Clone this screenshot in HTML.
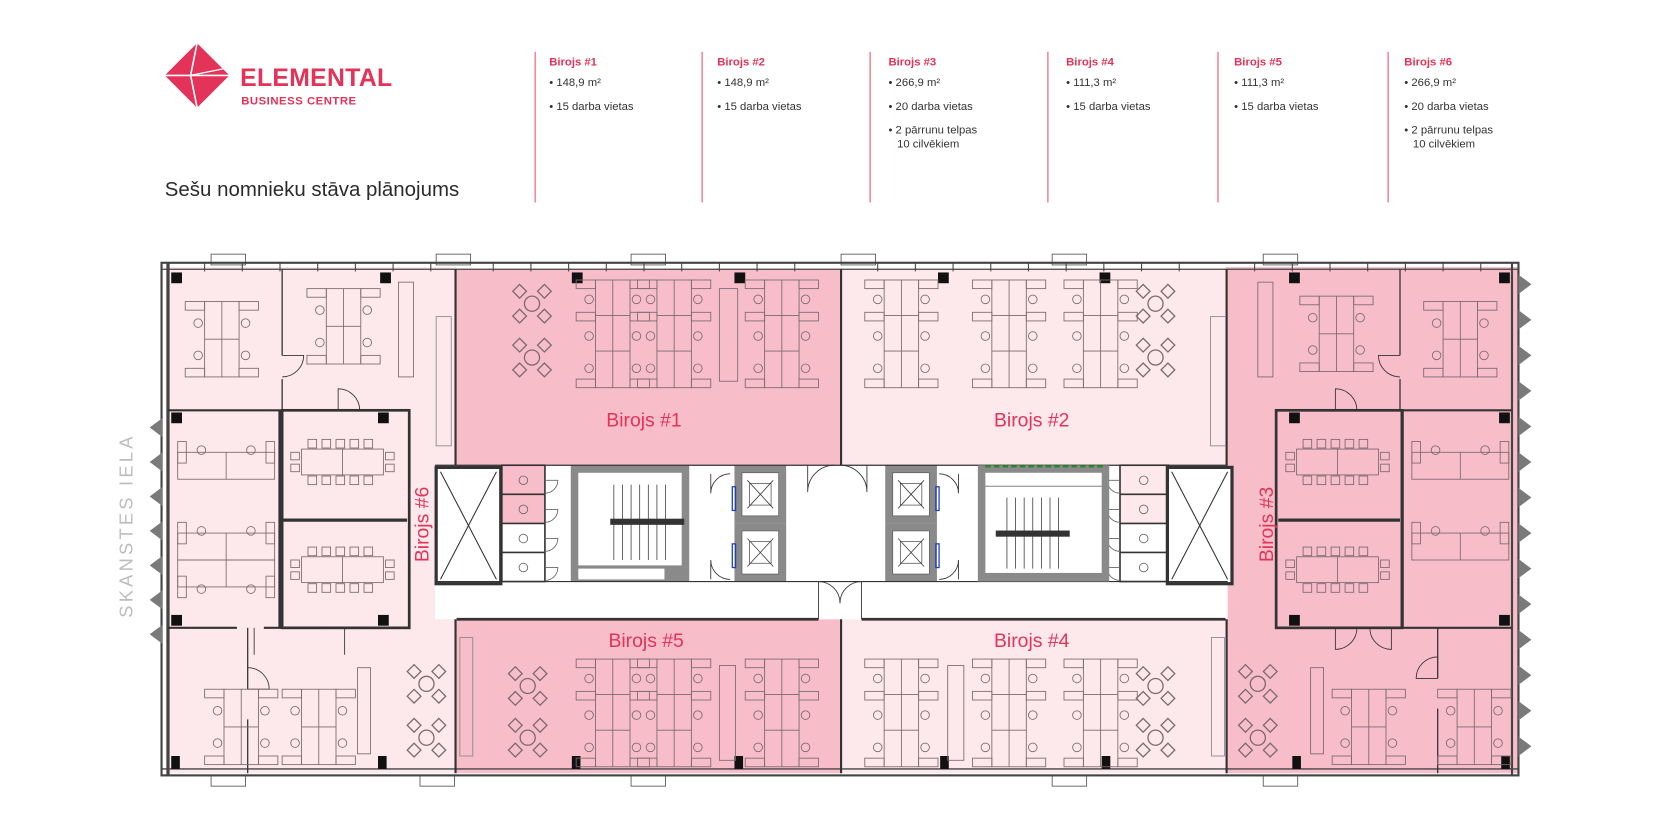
<!DOCTYPE html>
<html><head><meta charset="utf-8"><style>
html,body{margin:0;padding:0;background:#fff;width:1680px;height:840px;overflow:hidden}
svg{display:block}
text{font-family:"Liberation Sans",sans-serif}
</style></head><body>
<svg width="1680" height="840" viewBox="0 0 1560 780" xmlns="http://www.w3.org/2000/svg" xmlns:xlink="http://www.w3.org/1999/xlink">
<defs>
<g id="d3" fill="none" stroke="#7a6a6e" stroke-width="0.8">
 <rect x="18" y="0" width="32" height="100"/>
 <line x1="34" y1="0" x2="34" y2="100"/>
 <line x1="18" y1="33" x2="50" y2="33"/><line x1="18" y1="66" x2="50" y2="66"/>
 <rect x="0" y="0" width="18" height="8"/><rect x="50" y="0" width="18" height="8"/>
 <rect x="0" y="30" width="18" height="8"/><rect x="50" y="30" width="18" height="8"/>
 <rect x="0" y="92" width="18" height="8"/><rect x="50" y="92" width="18" height="8"/>
 <circle cx="12" cy="18" r="4"/><circle cx="56" cy="18" r="4"/>
 <circle cx="12" cy="52" r="4"/><circle cx="56" cy="52" r="4"/>
 <circle cx="12" cy="82" r="4"/><circle cx="56" cy="82" r="4"/>
</g>
<g id="d2" fill="none" stroke="#7a6a6e" stroke-width="0.8">
 <rect x="18" y="0" width="32" height="70"/>
 <line x1="34" y1="0" x2="34" y2="70"/><line x1="18" y1="35" x2="50" y2="35"/>
 <rect x="0" y="0" width="18" height="8"/><rect x="50" y="0" width="18" height="8"/>
 <rect x="0" y="62" width="18" height="8"/><rect x="50" y="62" width="18" height="8"/>
 <circle cx="12" cy="20" r="4"/><circle cx="56" cy="20" r="4"/>
 <circle cx="12" cy="50" r="4"/><circle cx="56" cy="50" r="4"/>
</g>
<g id="rt" fill="none" stroke="#7a6a6e" stroke-width="1.2">
 <circle cx="20" cy="20" r="7"/>
 <rect x="4" y="4" width="9" height="9" transform="rotate(45 8.5 8.5)"/>
 <rect x="27" y="4" width="9" height="9" transform="rotate(45 31.5 8.5)"/>
 <rect x="4" y="27" width="9" height="9" transform="rotate(45 8.5 31.5)"/>
 <rect x="27" y="27" width="9" height="9" transform="rotate(45 31.5 31.5)"/>
</g>
<g id="mt" fill="none" stroke="#7a6a6e" stroke-width="0.8">
 <rect x="12" y="12" width="76" height="24"/><line x1="50" y1="12" x2="50" y2="36"/>
 <rect x="18" y="3" width="8" height="8"/><rect x="31" y="3" width="8" height="8"/><rect x="44" y="3" width="8" height="8"/><rect x="57" y="3" width="8" height="8"/><rect x="70" y="3" width="8" height="8"/>
 <rect x="18" y="37" width="8" height="8"/><rect x="31" y="37" width="8" height="8"/><rect x="44" y="37" width="8" height="8"/><rect x="57" y="37" width="8" height="8"/><rect x="70" y="37" width="8" height="8"/>
 <rect x="2" y="15" width="8" height="7"/><rect x="2" y="26" width="8" height="7"/><rect x="90" y="15" width="8" height="7"/><rect x="90" y="26" width="8" height="7"/>
</g>
<g id="dw" fill="none" stroke="#7a6a6e" stroke-width="0.8">
 <rect x="0" y="10" width="90" height="25"/><line x1="45" y1="10" x2="45" y2="35"/>
 <rect x="0" y="0" width="8" height="20"/><rect x="82" y="0" width="8" height="20"/>
 <circle cx="22" cy="8" r="4"/><circle cx="68" cy="8" r="4"/>
</g>
<g id="sh" fill="#fff" stroke="#333" stroke-width="1">
 <rect x="0" y="0" width="60" height="108" stroke-width="3"/>
 <line x1="4" y1="4" x2="56" y2="104"/><line x1="56" y1="4" x2="4" y2="104"/>
</g>
<g id="lift" >
 <rect x="0" y="0" width="48" height="54" fill="#8a8a8a"/>
 <rect x="7" y="7" width="34" height="40" fill="#fff" stroke="#555" stroke-width="0.6"/>
 <line x1="12" y1="14" x2="36" y2="40" stroke="#333" stroke-width="0.7"/><line x1="36" y1="14" x2="12" y2="40" stroke="#333" stroke-width="0.7"/>
 <rect x="14" y="17" width="20" height="20" fill="none" stroke="#333" stroke-width="0.6"/>
</g>
<g id="tri"><polygon points="12,0 0,9 12,18" fill="#7a7a7a"/></g>
<g id="trir"><polygon points="0,0 12,9 0,18" fill="#7a7a7a"/></g>
</defs>

<!-- HEADER -->
<g transform="translate(183,70)">
 <polygon points="0,-30 30,0 0,30 -30,0" fill="#e33358"/>
 <line x1="0" y1="-30" x2="-6" y2="0" stroke="#fff" stroke-width="1.5"/>
 <line x1="-30" y1="0" x2="30" y2="0" stroke="#fff" stroke-width="1.5"/>
 <line x1="-6" y1="0" x2="0" y2="30" stroke="#fff" stroke-width="1.5"/>
 <line x1="-6" y1="0" x2="24" y2="-6" stroke="#fff" stroke-width="1.2"/>
</g>
<text x="223" y="80" font-size="23" fill="#e33358" font-weight="bold" letter-spacing="0.3">ELEMENTAL</text>
<text x="224" y="97" font-size="10.5" fill="#e33358" font-weight="bold" letter-spacing="0.5">BUSINESS CENTRE</text>
<text x="153" y="182" font-size="19" fill="#2b2b2b">Sešu nomnieku stāva plānojums</text>

<g stroke="#f08aa0" stroke-width="1.5">
 <line x1="497" y1="48" x2="497" y2="188"/><line x1="652" y1="48" x2="652" y2="188"/>
 <line x1="808" y1="48" x2="808" y2="188"/><line x1="973" y1="48" x2="973" y2="188"/>
 <line x1="1131" y1="48" x2="1131" y2="188"/><line x1="1289" y1="48" x2="1289" y2="188"/>
</g>
<g font-size="10.5" fill="#333">
 <g transform="translate(510,0)"><text y="61" fill="#e33358" font-weight="bold">Birojs #1</text><text y="80">• 148,9 m²</text><text y="102">• 15 darba vietas</text></g>
 <g transform="translate(666,0)"><text y="61" fill="#e33358" font-weight="bold">Birojs #2</text><text y="80">• 148,9 m²</text><text y="102">• 15 darba vietas</text></g>
 <g transform="translate(825,0)"><text y="61" fill="#e33358" font-weight="bold">Birojs #3</text><text y="80">• 266,9 m²</text><text y="102">• 20 darba vietas</text><text y="124">• 2 pārrunu telpas</text><text x="8" y="137">10 cilvēkiem</text></g>
 <g transform="translate(990,0)"><text y="61" fill="#e33358" font-weight="bold">Birojs #4</text><text y="80">• 111,3 m²</text><text y="102">• 15 darba vietas</text></g>
 <g transform="translate(1146,0)"><text y="61" fill="#e33358" font-weight="bold">Birojs #5</text><text y="80">• 111,3 m²</text><text y="102">• 15 darba vietas</text></g>
 <g transform="translate(1304,0)"><text y="61" fill="#e33358" font-weight="bold">Birojs #6</text><text y="80">• 266,9 m²</text><text y="102">• 20 darba vietas</text><text y="124">• 2 pārrunu telpas</text><text x="8" y="137">10 cilvēkiem</text></g>
</g>

<!-- PLAN FILLS -->
<rect x="154" y="248" width="270" height="470" fill="#fde8ec"/>
<rect x="424" y="250" width="356" height="182" fill="#f7bdc9"/>
<rect x="782" y="250" width="356" height="182" fill="#fde8ec"/>
<rect x="424" y="575" width="356" height="143" fill="#f7bdc9"/>
<rect x="782" y="575" width="356" height="143" fill="#fde8ec"/>
<rect x="1138" y="248" width="272" height="470" fill="#f7bdc9"/>
<rect x="404" y="432" width="736" height="143" fill="#fff"/>
<rect x="466" y="432" width="40" height="54" fill="#f7bdc9"/>
<rect x="1040" y="432" width="45" height="54" fill="#fde8ec"/>

<!-- top window markers -->
<g fill="#fff" stroke="#555" stroke-width="0.8">
 <rect x="196" y="236" width="32" height="10"/><rect x="405" y="236" width="32" height="10"/><rect x="586" y="236" width="32" height="10"/><rect x="781" y="236" width="32" height="10"/><rect x="977" y="236" width="32" height="10"/><rect x="1173" y="236" width="32" height="10"/>
 <rect x="196" y="720" width="32" height="10"/><rect x="390" y="720" width="32" height="10"/><rect x="586" y="720" width="32" height="10"/><rect x="977" y="720" width="32" height="10"/><rect x="1173" y="720" width="32" height="10"/>
</g>
<!-- outer walls -->
<g fill="none" stroke="#444">
 <rect x="150" y="244" width="1260" height="476" stroke-width="2"/>
 <line x1="150" y1="250" x2="1410" y2="250" stroke-width="1.2"/>
 <line x1="150" y1="714" x2="1410" y2="714" stroke-width="1.2"/>
 <line x1="156" y1="244" x2="156" y2="720" stroke-width="3"/>
 <line x1="1404" y1="244" x2="1404" y2="720" stroke-width="2"/>
</g>
<g stroke="#444" stroke-width="1">
 <line x1="190" y1="244" x2="190" y2="252"/><line x1="225" y1="244" x2="225" y2="252"/><line x1="260" y1="244" x2="260" y2="252"/><line x1="295" y1="244" x2="295" y2="252"/><line x1="330" y1="244" x2="330" y2="252"/><line x1="365" y1="244" x2="365" y2="252"/><line x1="400" y1="244" x2="400" y2="252"/><line x1="458" y1="244" x2="458" y2="252"/><line x1="493" y1="244" x2="493" y2="252"/><line x1="528" y1="244" x2="528" y2="252"/><line x1="563" y1="244" x2="563" y2="252"/><line x1="598" y1="244" x2="598" y2="252"/><line x1="633" y1="244" x2="633" y2="252"/><line x1="668" y1="244" x2="668" y2="252"/><line x1="703" y1="244" x2="703" y2="252"/><line x1="738" y1="244" x2="738" y2="252"/><line x1="815" y1="244" x2="815" y2="252"/><line x1="850" y1="244" x2="850" y2="252"/><line x1="885" y1="244" x2="885" y2="252"/><line x1="920" y1="244" x2="920" y2="252"/><line x1="955" y1="244" x2="955" y2="252"/><line x1="990" y1="244" x2="990" y2="252"/><line x1="1025" y1="244" x2="1025" y2="252"/><line x1="1060" y1="244" x2="1060" y2="252"/><line x1="1095" y1="244" x2="1095" y2="252"/><line x1="1165" y1="244" x2="1165" y2="252"/><line x1="1200" y1="244" x2="1200" y2="252"/><line x1="1235" y1="244" x2="1235" y2="252"/><line x1="1270" y1="244" x2="1270" y2="252"/><line x1="1305" y1="244" x2="1305" y2="252"/><line x1="1340" y1="244" x2="1340" y2="252"/><line x1="1375" y1="244" x2="1375" y2="252"/>
</g>
<!-- facade triangles -->
<g>
 <use xlink:href="#tri" x="139" y="388"/><use xlink:href="#tri" x="139" y="420"/><use xlink:href="#tri" x="139" y="452"/><use xlink:href="#tri" x="139" y="484"/><use xlink:href="#tri" x="139" y="516"/><use xlink:href="#tri" x="139" y="548"/><use xlink:href="#tri" x="139" y="580"/>
 <use xlink:href="#trir" x="1410" y="255"/><use xlink:href="#trir" x="1410" y="288"/><use xlink:href="#trir" x="1410" y="321"/><use xlink:href="#trir" x="1410" y="354"/><use xlink:href="#trir" x="1410" y="387"/><use xlink:href="#trir" x="1410" y="420"/><use xlink:href="#trir" x="1410" y="453"/><use xlink:href="#trir" x="1410" y="486"/><use xlink:href="#trir" x="1410" y="519"/><use xlink:href="#trir" x="1410" y="552"/><use xlink:href="#trir" x="1410" y="585"/><use xlink:href="#trir" x="1410" y="618"/><use xlink:href="#trir" x="1410" y="651"/><use xlink:href="#trir" x="1410" y="684"/>
</g>

<!-- interior walls -->
<g stroke="#333" fill="none">
 <line x1="262" y1="250" x2="262" y2="330" stroke-width="1.2"/><line x1="262" y1="352" x2="262" y2="381" stroke-width="1.2"/>
 <line x1="156" y1="381" x2="300" y2="381" stroke-width="2"/><line x1="330" y1="381" x2="380" y2="381" stroke-width="2"/>
 <line x1="260" y1="381" x2="260" y2="583" stroke-width="3"/>
 <line x1="262" y1="483" x2="378" y2="483" stroke-width="3"/>
 <rect x="262" y="381" width="118" height="202" stroke-width="2.5"/>
 <line x1="156" y1="583" x2="220" y2="583" stroke-width="2"/><line x1="245" y1="583" x2="300" y2="583" stroke-width="2"/><line x1="330" y1="583" x2="380" y2="583" stroke-width="2"/>
 <line x1="230" y1="583" x2="230" y2="640" stroke-width="1.2"/><line x1="230" y1="668" x2="230" y2="718" stroke-width="1.2"/>
 <line x1="423" y1="250" x2="423" y2="432" stroke-width="2"/><line x1="423" y1="575" x2="423" y2="718" stroke-width="2"/>
 <line x1="781" y1="250" x2="781" y2="432" stroke-width="2"/><line x1="781" y1="575" x2="781" y2="718" stroke-width="2"/>
 <line x1="1139" y1="250" x2="1139" y2="432" stroke-width="2"/><line x1="1139" y1="575" x2="1139" y2="718" stroke-width="2"/>
 <line x1="424" y1="575" x2="760" y2="575" stroke-width="2.5"/><line x1="800" y1="575" x2="1138" y2="575" stroke-width="2.5"/>
 <!-- right wing -->
 <line x1="1300" y1="250" x2="1300" y2="330" stroke-width="1.2"/><line x1="1300" y1="352" x2="1300" y2="381" stroke-width="1.2"/>
 <line x1="1185" y1="381" x2="1232" y2="381" stroke-width="2"/><line x1="1255" y1="381" x2="1404" y2="381" stroke-width="2"/>
 <rect x="1185" y="381" width="117" height="202" stroke-width="2.5"/>
 <line x1="1302" y1="381" x2="1302" y2="583" stroke-width="3"/>
 <line x1="1187" y1="483" x2="1300" y2="483" stroke-width="3"/>
 <line x1="1302" y1="583" x2="1404" y2="583" stroke-width="2"/>
 <line x1="1335" y1="583" x2="1335" y2="630" stroke-width="1.2"/><line x1="1335" y1="658" x2="1335" y2="718" stroke-width="1.2"/>
</g>
<!-- doors -->
<g fill="none" stroke="#333" stroke-width="0.8">
 <path d="M262 330 h20 a20 20 0 0 1 -20 20"/>
 <path d="M314 381 v-20 a20 20 0 0 1 20 20"/>
 <path d="M1300 330 h-20 a20 20 0 0 0 20 20"/>
 <path d="M1240 381 v-20 a20 20 0 0 1 20 20"/>
 <path d="M1240 583 v20 a20 20 0 0 0 20 -20"/>
 <path d="M1292 583 v20 a20 20 0 0 1 -20 -20"/>
 <path d="M1335 630 h-20 a20 20 0 0 1 20 -20"/>
 <path d="M230 640 h20 a20 20 0 0 0 -20 -20"/>
 <path d="M236 583 v25"/><path d="M320 583 v25"/>
 <path d="M760 575 v-35 a20 20 0 0 1 20 20"/><path d="M800 575 v-35 a20 20 0 0 0 -20 20"/>
</g>
<!-- pillars -->
<g fill="#111">
 <rect x="159" y="253" width="10" height="10"/><rect x="353" y="253" width="10" height="10"/><rect x="531" y="253" width="10" height="10"/><rect x="682" y="253" width="10" height="10"/><rect x="871" y="253" width="10" height="10"/><rect x="1021" y="253" width="10" height="10"/><rect x="1197" y="253" width="10" height="10"/><rect x="1392" y="253" width="10" height="10"/>
 <rect x="159" y="383" width="10" height="10"/><rect x="351" y="383" width="10" height="10"/><rect x="1197" y="383" width="10" height="10"/><rect x="1392" y="383" width="10" height="10"/>
 <rect x="159" y="571" width="10" height="10"/><rect x="351" y="571" width="10" height="10"/><rect x="1197" y="571" width="10" height="10"/><rect x="1392" y="571" width="10" height="10"/>
 <rect x="159" y="702" width="8" height="12"/><rect x="351" y="702" width="8" height="12"/><rect x="531" y="702" width="8" height="12"/><rect x="682" y="702" width="8" height="12"/><rect x="873" y="702" width="8" height="12"/><rect x="1023" y="702" width="8" height="12"/><rect x="1200" y="702" width="8" height="12"/><rect x="1394" y="702" width="8" height="12"/>
</g>

<!-- CORE -->
<use xlink:href="#sh" x="405" y="434"/>
<g fill="none" stroke="#333" stroke-width="1.5">
 <rect x="466" y="432" width="40" height="108"/>
 <line x1="466" y1="459" x2="506" y2="459"/><line x1="466" y1="486" x2="506" y2="486"/><line x1="466" y1="513" x2="506" y2="513"/>
 <rect x="1040" y="432" width="45" height="108"/>
 <line x1="1040" y1="459" x2="1085" y2="459"/><line x1="1040" y1="486" x2="1085" y2="486"/><line x1="1040" y1="513" x2="1085" y2="513"/>
</g>
<g fill="none" stroke="#666" stroke-width="0.8">
 <circle cx="486" cy="446" r="4"/><circle cx="486" cy="473" r="4"/><circle cx="486" cy="500" r="4"/><circle cx="486" cy="527" r="4"/>
 <circle cx="1062" cy="446" r="4"/><circle cx="1062" cy="473" r="4"/><circle cx="1062" cy="500" r="4"/><circle cx="1062" cy="527" r="4"/>
 <path d="M506 446 h12 a12 12 0 0 1 -12 12"/><path d="M506 473 h12 a12 12 0 0 1 -12 12"/><path d="M506 500 h12 a12 12 0 0 1 -12 12"/><path d="M506 527 h12 a12 12 0 0 1 -12 12"/>
 <path d="M1040 446 h-12 a12 12 0 0 0 12 12"/><path d="M1040 473 h-12 a12 12 0 0 0 12 12"/><path d="M1040 500 h-12 a12 12 0 0 0 12 12"/><path d="M1040 527 h-12 a12 12 0 0 0 12 12"/>
</g>
<use xlink:href="#sh" x="1084" y="434"/>
<!-- left stair -->
<rect x="530" y="432" width="110" height="108" fill="#8a8a8a"/>
<rect x="537" y="439" width="96" height="86" fill="#fff"/>
<rect x="537" y="528" width="80" height="10" fill="#fff"/>
<g stroke="#333" stroke-width="0.7">
 <line x1="570" y1="450" x2="570" y2="520"/><line x1="578" y1="450" x2="578" y2="520"/><line x1="586" y1="450" x2="586" y2="520"/><line x1="594" y1="450" x2="594" y2="520"/><line x1="602" y1="450" x2="602" y2="520"/><line x1="610" y1="450" x2="610" y2="520"/><line x1="618" y1="450" x2="618" y2="520"/>
 <rect x="567" y="482" width="68" height="5" fill="#333"/>
</g>
<!-- lifts -->
<use xlink:href="#lift" x="682" y="432"/><use xlink:href="#lift" x="682" y="486"/>
<use xlink:href="#lift" x="822" y="432"/><use xlink:href="#lift" x="822" y="486"/>
<g stroke="#2040c0" stroke-width="1.2" fill="none"><rect x="680" y="452" width="3" height="22"/><rect x="680" y="505" width="3" height="22"/><rect x="869" y="452" width="3" height="22"/><rect x="869" y="505" width="3" height="22"/></g>
<g fill="none" stroke="#333" stroke-width="0.8">
 <path d="M660 440 v18 a18 18 0 0 1 18 -18"/><path d="M660 538 v-18 a18 18 0 0 0 18 18"/>
 <path d="M890 440 v18 a18 18 0 0 0 -18 -18"/><path d="M890 538 v-18 a18 18 0 0 1 -18 18"/>
 <path d="M750 432 v25 a25 25 0 0 1 25 -25"/><path d="M805 432 v25 a25 25 0 0 0 -25 -25"/>
</g>
<line x1="404" y1="432" x2="1140" y2="432" stroke="#333" stroke-width="1.2"/>
<line x1="404" y1="540" x2="1140" y2="540" stroke="#333" stroke-width="1"/>
<!-- right stair -->
<rect x="908" y="432" width="122" height="108" fill="#8a8a8a"/>
<rect x="915" y="452" width="108" height="80" fill="#fff"/>
<rect x="915" y="439" width="108" height="12" fill="#fff"/>
<line x1="915" y1="433" x2="1026" y2="433" stroke="#1a8a1a" stroke-width="2" stroke-dasharray="5,3"/>
<g stroke="#333" stroke-width="0.7">
 <line x1="935" y1="462" x2="935" y2="528"/><line x1="943" y1="462" x2="943" y2="528"/><line x1="951" y1="462" x2="951" y2="528"/><line x1="959" y1="462" x2="959" y2="528"/><line x1="967" y1="462" x2="967" y2="528"/><line x1="975" y1="462" x2="975" y2="528"/><line x1="983" y1="462" x2="983" y2="528"/>
 <rect x="925" y="493" width="68" height="5" fill="#333"/>
</g>
<!-- side panels -->
<g fill="none" stroke="#888" stroke-width="0.8">
 <rect x="405" y="294" width="14" height="120"/><rect x="1124" y="294" width="14" height="120"/>
 <rect x="427" y="592" width="12" height="110"/><rect x="1125" y="592" width="12" height="110"/>
</g>

<!-- FURNITURE -->
<use xlink:href="#d2" x="172" y="280"/>
<use xlink:href="#d2" x="285" y="268"/>
<use xlink:href="#mt" x="268" y="405"/><use xlink:href="#mt" x="268" y="505"/>
<use xlink:href="#dw" x="165" y="410"/><use xlink:href="#dw" x="165" y="485"/><use xlink:href="#dw" x="165" y="515" transform="translate(0,1070) scale(1,-1) translate(0,0)"/>
<use xlink:href="#d2" x="190" y="640"/><use xlink:href="#d2" x="262" y="640"/>
<g fill="none" stroke="#7a6a6e" stroke-width="0.8"><rect x="370" y="262" width="14" height="88"/><rect x="332" y="620" width="12" height="80"/></g>
<use xlink:href="#rt" x="376" y="615"/><use xlink:href="#rt" x="376" y="665"/>

<use xlink:href="#rt" x="474" y="262"/><use xlink:href="#rt" x="474" y="312"/>
<use xlink:href="#d3" x="535" y="260"/><use xlink:href="#d3" x="592" y="260"/><use xlink:href="#d3" x="692" y="260"/>
<rect x="668" y="268" width="17" height="86" fill="none" stroke="#7a6a6e" stroke-width="0.8"/>

<use xlink:href="#d3" x="803" y="260"/><use xlink:href="#d3" x="903" y="260"/><use xlink:href="#d3" x="988" y="260"/>
<use xlink:href="#rt" x="1053" y="262"/><use xlink:href="#rt" x="1053" y="312"/>

<use xlink:href="#rt" x="470" y="617"/><use xlink:href="#rt" x="470" y="665"/>
<use xlink:href="#d3" x="535" y="612"/><use xlink:href="#d3" x="592" y="612"/><use xlink:href="#d3" x="692" y="612"/>
<rect x="668" y="618" width="15" height="88" fill="none" stroke="#7a6a6e" stroke-width="0.8"/>

<use xlink:href="#d3" x="803" y="612"/><use xlink:href="#d3" x="903" y="612"/><use xlink:href="#d3" x="988" y="612"/>
<rect x="880" y="618" width="15" height="88" fill="none" stroke="#7a6a6e" stroke-width="0.8"/>
<use xlink:href="#rt" x="1053" y="617"/><use xlink:href="#rt" x="1053" y="665"/>

<use xlink:href="#d2" x="1207" y="275"/><use xlink:href="#d2" x="1322" y="280"/>
<use xlink:href="#mt" x="1192" y="405"/><use xlink:href="#mt" x="1192" y="505"/>
<use xlink:href="#dw" x="1311" y="410"/><use xlink:href="#dw" x="1311" y="485"/>
<use xlink:href="#d2" x="1237" y="640"/><use xlink:href="#d2" x="1335" y="640"/>
<g fill="none" stroke="#7a6a6e" stroke-width="0.8"><rect x="1168" y="262" width="14" height="88"/><rect x="1217" y="620" width="12" height="80"/></g>
<use xlink:href="#rt" x="1148" y="615"/><use xlink:href="#rt" x="1148" y="665"/>

<!-- LABELS -->
<g fill="#e33358" font-size="18">
 <text x="598" y="396" text-anchor="middle">Birojs #1</text>
 <text x="958" y="396" text-anchor="middle">Birojs #2</text>
 <text x="600" y="601" text-anchor="middle">Birojs #5</text>
 <text x="958" y="601" text-anchor="middle">Birojs #4</text>
 <text transform="translate(398,487) rotate(-90)" text-anchor="middle">Birojs #6</text>
 <text transform="translate(1182,487) rotate(-90)" text-anchor="middle">Birojs #3</text>
</g>
<text transform="translate(123,488) rotate(-90)" text-anchor="middle" font-size="17" fill="#bdbdbd" letter-spacing="3">SKANSTES IELA</text>
</svg>
</body></html>
